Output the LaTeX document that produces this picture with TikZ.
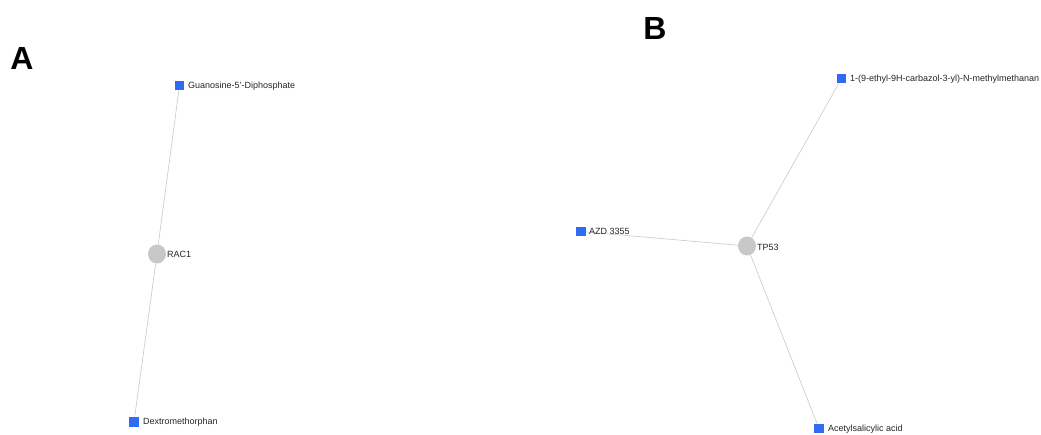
\documentclass[tikz,border=0pt]{standalone}
\usepackage{fontspec}
\setmainfont{Liberation Sans}
\usetikzlibrary{shapes.geometric}
\begin{document}
\begin{tikzpicture}[x=1pt,y=-1pt,
  drug/.style={rectangle,fill=drugblue,minimum size=9.5pt,inner sep=0pt},
  gene/.style={ellipse,fill=genegray,minimum width=18pt,minimum height=19pt,inner sep=0pt},
  lbl/.style={font=\fontsize{9}{10}\selectfont,text=black!85,inner sep=0pt,anchor=west},
  panel/.style={font=\fontsize{32}{32}\selectfont\bfseries,inner sep=0pt},
  edge/.style={draw=edgegray,line width=0.6pt}]
\definecolor{drugblue}{HTML}{2F6BF5}
\definecolor{genegray}{HTML}{C8C8C8}
\definecolor{edgegray}{HTML}{C9C9C9}
\useasboundingbox (0,0) rectangle (1041,434);
\fill[white] (0,0) rectangle (1041,434);
\node[panel] (pA) at (22,58) {A};
\node[panel] (pB) at (655,28) {B};
% panel A
\node[gene] (rac1) at (157,254) {};
\node[drug] (gdp) at (179.5,85.5) {};
\node[drug] (dex) at (134,422) {};
\draw[edge] (gdp) -- (rac1) -- (dex);
\node[lbl] (rac1t) at (167,254.5) {RAC1};
\node[lbl] (gdpt) at (188,86) {Guanosine-5'-Diphosphate};
\node[lbl] (dext) at (143,422.5) {Dextromethorphan};
% panel B
\node[gene] (tp53) at (747,246) {};
\node[drug] (azd) at (581,231.5) {};
\node[drug] (eth) at (841.5,78.5) {};
\node[drug] (asa) at (819,428.5) {};
\draw[edge] (azd) -- (tp53);
\draw[edge] (eth) -- (tp53) -- (asa);
\node[lbl] (tp53t) at (757,247.5) {TP53};
\node[lbl] (azdt) at (589,231.5) {AZD 3355};
\node[lbl] (etht) at (850,79) {1-(9-ethyl-9H-carbazol-3-yl)-N-methylmethanan};
\node[lbl] (asat) at (828,429) {Acetylsalicylic acid};
\end{tikzpicture}
\end{document}
